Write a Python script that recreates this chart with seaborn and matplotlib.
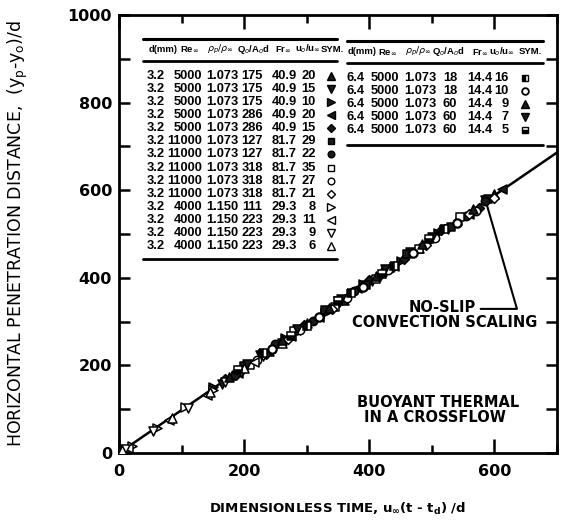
import matplotlib
matplotlib.use("Agg")
import matplotlib.pyplot as plt
import seaborn as sns
import pandas as pd
from matplotlib.ticker import MultipleLocator

sns.set_theme(style="ticks")
plt.rcParams["font.family"] = ["DejaVu Sans"]
plt.rcParams["mathtext.fontset"] = "dejavusans"
plt.rcParams["text.color"] = "black"
plt.rcParams["axes.labelcolor"] = "black"
plt.rcParams["xtick.color"] = "black"
plt.rcParams["ytick.color"] = "black"

# ---- data: dimensionless time vs horizontal penetration distance ----
# 3.2 mm nozzle, Re 5000
a_x = [180, 240, 300, 360, 420, 480, 540, 600]
a_y = [179, 232, 297, 350, 415, 468, 533, 592]
b_x = [165, 225, 290, 350, 405, 465, 525, 585]
b_y = [158, 224, 281, 347, 393, 459, 511, 577]
c_x = [150, 205, 265, 330, 390, 450, 510]
c_y = [151, 198, 263, 320, 386, 438, 503]
d_x = [190, 255, 320, 380, 440, 500, 560, 612]
d_y = [183, 253, 310, 376, 428, 494, 545, 603]
e_x = [170, 235, 295, 345, 400, 455, 515, 575]
e_y = [170, 227, 292, 335, 395, 443, 508, 560]
# 3.2 mm nozzle, Re 11000
f_x = [2, 200, 260, 330, 395, 460, 530, 590]
f_y = [3, 199, 251, 327, 384, 454, 516, 581]
g_x = [185, 250, 310, 375, 435, 495, 555, 585]
g_y = [178, 248, 301, 371, 423, 489, 541, 576]
h_x = [210, 280, 345, 410, 480, 545]
h_y = [202, 279, 334, 398, 466, 538]
i_x = [220, 290, 365, 430, 505, 570]
i_y = [212, 280, 354, 417, 490, 553]
j_x = [195, 270, 340, 415, 490, 560, 600]
j_y = [187, 261, 329, 403, 476, 545, 583]
# 3.2 mm nozzle, Re 4000
k_x = [20, 60, 105, 150, 195]
k_y = [17, 57, 105, 144, 189]
l_x = [15, 80, 140, 215, 275]
l_y = [12, 76, 133, 207, 266]
m_x = [10, 55, 110, 170, 230]
m_y = [8, 50, 103, 162, 221]
n_x = [5, 85, 145, 200, 260]
n_y = [6, 79, 139, 193, 251]
# 6.4 mm nozzle, Re 5000
o_x = [230, 300, 370, 440, 520]
o_y = [228, 290, 365, 428, 512]
p_x = [245, 320, 390, 470, 540]
p_y = [237, 310, 378, 457, 526]
q_x = [175, 260, 335, 410, 485, 565]
q_y = [174, 257, 331, 405, 478, 556]
r_x = [205, 285, 355, 425, 500]
r_y = [204, 282, 351, 419, 493]
s_x = [190, 275, 350, 420, 495]
s_y = [189, 266, 346, 409, 488]

# no-slip convection scaling line
scaling_x = [0, 700]
scaling_y = [0, 686]

# table of run conditions
left_rows = [
    ("3.2", "5000", "1.073", "175", "40.9", "20"),
    ("3.2", "5000", "1.073", "175", "40.9", "15"),
    ("3.2", "5000", "1.073", "175", "40.9", "10"),
    ("3.2", "5000", "1.073", "286", "40.9", "20"),
    ("3.2", "5000", "1.073", "286", "40.9", "15"),
    ("3.2", "11000", "1.073", "127", "81.7", "29"),
    ("3.2", "11000", "1.073", "127", "81.7", "22"),
    ("3.2", "11000", "1.073", "318", "81.7", "35"),
    ("3.2", "11000", "1.073", "318", "81.7", "27"),
    ("3.2", "11000", "1.073", "318", "81.7", "21"),
    ("3.2", "4000", "1.150", "111", "29.3", "8"),
    ("3.2", "4000", "1.150", "223", "29.3", "11"),
    ("3.2", "4000", "1.150", "223", "29.3", "9"),
    ("3.2", "4000", "1.150", "223", "29.3", "6"),
]
right_rows = [
    ("6.4", "5000", "1.073", "18", "14.4", "16"),
    ("6.4", "5000", "1.073", "18", "14.4", "10"),
    ("6.4", "5000", "1.073", "60", "14.4", "9"),
    ("6.4", "5000", "1.073", "60", "14.4", "7"),
    ("6.4", "5000", "1.073", "60", "14.4", "5"),
]

# symbol for each run: (marker, fill, fillstyle)
left_syms = [("^", "k", "full"), ("v", "k", "full"), (">", "k", "full"),
             ("<", "k", "full"), ("D", "k", "full"), ("s", "k", "full"),
             ("o", "k", "full"), ("s", "w", "full"), ("o", "w", "full"),
             ("D", "w", "full"), (">", "w", "full"), ("<", "w", "full"),
             ("v", "w", "full"), ("^", "w", "full")]
right_syms = [("s", "k", "left"), ("o", "w", "full"), ("^", "k", "full"),
              ("v", "k", "full"), ("s", "k", "bottom")]

left_pts = [(a_x, a_y), (b_x, b_y), (c_x, c_y), (d_x, d_y), (e_x, e_y),
            (f_x, f_y), (g_x, g_y), (h_x, h_y), (i_x, i_y), (j_x, j_y),
            (k_x, k_y), (l_x, l_y), (m_x, m_y), (n_x, n_y)]
right_pts = [(o_x, o_y), (p_x, p_y), (q_x, q_y), (r_x, r_y), (s_x, s_y)]

fig = plt.figure(figsize=(5.68, 5.26), dpi=100)
ax = fig.add_axes([119 / 568, 1 - 453 / 526, 438 / 568, 438 / 526])

sns.lineplot(x=scaling_x, y=scaling_y, color="black", lw=1.8, ax=ax, zorder=2)


def marker_size(m):
    return {"D": 5.0, "o": 6.0, "s": 6.0}.get(m, 6.5)


def draw_series(pts, syms, thick=False):
    for (xs, ys), (mk, fc, fs) in zip(pts, syms):
        if fs == "full":
            df = pd.DataFrame({"x": xs, "y": ys})
            sns.scatterplot(data=df, x="x", y="y", marker=mk, s=marker_size(mk) ** 2,
                            facecolor=fc, edgecolor="black",
                            linewidth=1.6 if (thick and fc == "w") else 1.1,
                            ax=ax, zorder=3, legend=False)
        else:
            ax.plot(xs, ys, ls="none", marker=mk, ms=marker_size(mk),
                    fillstyle=fs, markerfacecolor="black",
                    markerfacecoloralt="white", markeredgecolor="black",
                    markeredgewidth=1.1, zorder=3)


draw_series(left_pts, left_syms)
draw_series(right_pts, right_syms, thick=True)

ax.set_xlim(0, 700)
ax.set_ylim(0, 1000)
ax.xaxis.set_major_locator(MultipleLocator(200))
ax.xaxis.set_minor_locator(MultipleLocator(100))
ax.yaxis.set_major_locator(MultipleLocator(200))
ax.yaxis.set_minor_locator(MultipleLocator(100))
ax.set_xticks([0, 200, 400, 600])
ax.tick_params(axis="both", which="both", direction="in", top=True, right=True,
               width=1.8, color="black", labelcolor="black")
ax.tick_params(axis="x", which="major", length=10, labelsize=11.5, pad=8)
ax.tick_params(axis="x", which="minor", length=5.5)
ax.tick_params(axis="y", which="major", length=8, labelsize=11.5, pad=5)
ax.tick_params(axis="y", which="minor", length=8)
for lab in ax.get_xticklabels() + ax.get_yticklabels():
    lab.set_fontweight("bold")
for sp in ax.spines.values():
    sp.set_linewidth(2.0)
    sp.set_color("black")

ax.set_xlabel(r"DIMENSIONLESS TIME, u$_\mathbf{\infty}$(t - t$_\mathbf{d}$) /d",
              fontsize=9.5, fontweight="bold", labelpad=16, color="black")
ax.set_ylabel(r"HORIZONTAL PENETRATION DISTANCE,  (y$_\mathrm{p}$-y$_\mathrm{o}$)/d",
              fontsize=12.5, color="black")
ax.yaxis.set_label_coords(-0.204, 0.5)

# annotations
ann = dict(ha="center", va="center", fontsize=10.5, fontweight="bold", color="black")
ax.text(516, 333, "NO-SLIP", **ann)
ax.text(521, 297, "CONVECTION SCALING", **ann)
ax.plot([578, 636, 588], [329, 329, 566], color="black", lw=1.5, zorder=2)
ax.text(510, 116, "BUOYANT THERMAL", **ann)
ax.text(505, 80, "IN A CROSSFLOW", **ann)

# ---- run-condition tables ----
tfont = dict(family="Liberation Sans", fontweight="bold", fontsize=9.3,
             transform=ax.transAxes, va="center", color="black")
hfont = dict(family="Liberation Sans", fontweight="bold", fontsize=6.8,
             transform=ax.transAxes, va="center", color="black")
headers = [r"d(mm)", r"Re$_\infty$", r"$\rho_p/\rho_\infty$", r"Q$_o$/A$_o$d",
           r"Fr$_\infty$", r"u$_o$/u$_\infty$", "SYM."]


def draw_table(x0, x1, top, head, hline, bottom, hcols, cols, rows, syms):
    ax.plot([x0, x1], [top, top], color="black", lw=2.2, transform=ax.transAxes,
            clip_on=False)
    ax.plot([x0, x1], [hline, hline], color="black", lw=2.0, transform=ax.transAxes,
            clip_on=False)
    ax.plot([x0, x1], [bottom, bottom], color="black", lw=2.0, transform=ax.transAxes,
            clip_on=False)
    for hx, h in zip(hcols, headers):
        ax.text(hx, head, h, ha="center", **hfont)
    y = hline - 0.034
    for row, (mk, fc, fs) in zip(rows, syms):
        for (cx, align), val in zip(cols[:-1], row):
            ax.text(cx, y, val, ha=align, **tfont)
        ax.plot([cols[-1][0]], [y], ls="none", marker=mk, ms=marker_size(mk) * 0.8,
                fillstyle=fs, markerfacecolor=fc if fs == "full" else "black",
                markerfacecoloralt="white", markeredgecolor="black",
                markeredgewidth=1.3 if fc == "w" and x0 > 0.5 else 1.0,
                transform=ax.transAxes, clip_on=False)
        y -= 0.0299


left_cols = [(0.064, "left"), (0.190, "right"), (0.237, "center"), (0.304, "center"),
             (0.377, "center"), (0.449, "right"), (0.484, "center")]
left_hcols = [0.100, 0.162, 0.231, 0.306, 0.374, 0.432, 0.486]
draw_table(0.055, 0.498, 0.945, 0.922, 0.895, 0.443, left_hcols, left_cols,
           left_rows, left_syms)

right_cols = [(0.539, "center"), (0.607, "center"), (0.687, "center"),
              (0.756, "center"), (0.824, "center"), (0.890, "right"), (0.927, "center")]
right_hcols = [0.555, 0.612, 0.683, 0.751, 0.824, 0.874, 0.938]
draw_table(0.521, 0.968, 0.941, 0.916, 0.890, 0.703, right_hcols, right_cols,
           right_rows, right_syms)

fig.savefig("out.png", dpi=100)
